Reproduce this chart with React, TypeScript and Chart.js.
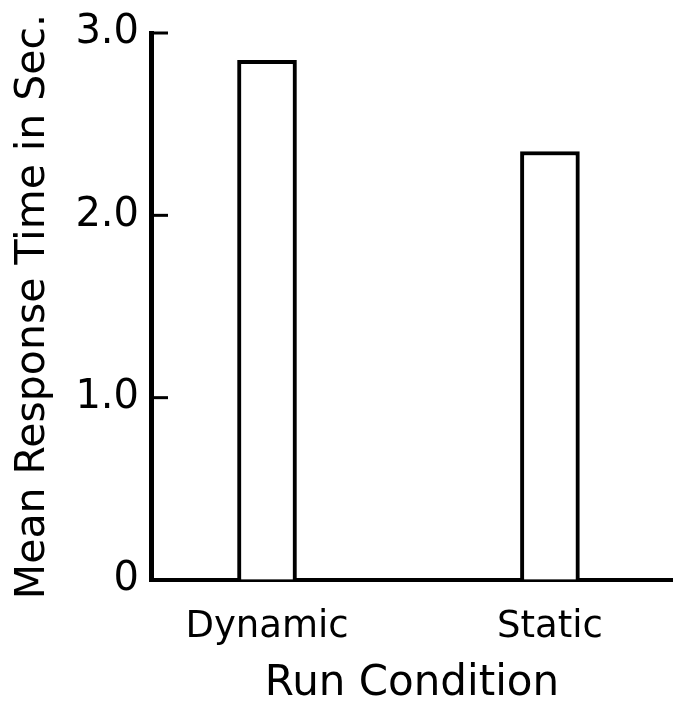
import React, { useEffect, useRef } from "react";
import { Chart, registerables } from "chart.js";

Chart.register(...registerables);

const categories = ["Dynamic", "Static"];
const categoryPositions = [1, 2];
const meanResponseTimes = [2.85, 2.35];
const yTickValues = [0, 1, 2, 3];
const yAxisTitle = "Mean Response Time in Sec.";
const xAxisTitle = "Run Condition";

const FONT = "'DejaVu Sans', sans-serif";

const innerTicksPlugin = {
  id: "innerTicks",
  afterDraw(chart: any) {
    const y = chart.scales.y;
    const ctx = chart.ctx;
    const x0 = chart.chartArea.left;
    ctx.save();
    ctx.strokeStyle = "#000";
    ctx.lineWidth = 3;
    yTickValues.forEach((v) => {
      if (v === 0) return;
      const py = y.getPixelForValue(v);
      ctx.beginPath();
      ctx.moveTo(x0, py);
      ctx.lineTo(x0 + 17, py);
      ctx.stroke();
    });
    ctx.restore();
  },
};

export default function App() {
  const ref = useRef<HTMLCanvasElement | null>(null);

  useEffect(() => {
    if (!ref.current) return;
    const chart = new Chart(ref.current, {
      type: "bar",
      data: {
        datasets: [
          {
            data: categoryPositions.map((x, i) => ({ x, y: meanResponseTimes[i] })),
            backgroundColor: "#ffffff",
            borderColor: "#000000",
            borderWidth: 4,
            barThickness: 59,
          },
        ],
      },
      options: {
        responsive: false,
        animation: false,
        layout: { padding: { top: 33, right: 0, left: 0, bottom: 0 } },
        plugins: { legend: { display: false }, tooltip: { enabled: false } },
        scales: {
          x: {
            type: "linear",
            min: 0.59,
            max: 2.435,
            offset: false,
            afterFit(scale: any) {
              scale.height = 125;
            },
            afterBuildTicks(scale: any) {
              scale.ticks = categoryPositions.map((v) => ({ value: v }));
            },
            grid: { display: true, drawOnChartArea: false, drawTicks: false, offset: false },
            border: { display: true, color: "#000", width: 4 },
            ticks: {
              color: "#000",
              padding: 25,
              autoSkip: false,
              maxRotation: 0,
              font: { family: FONT, size: 37 },
              callback: (v: any) => {
                const i = categoryPositions.indexOf(Number(v));
                return i >= 0 ? categories[i] : "";
              },
            },
            title: {
              display: true,
              text: xAxisTitle,
              color: "#000",
              font: { family: FONT, size: 42, lineHeight: 1 },
              padding: { top: 0, bottom: 0 },
            },
          },
          y: {
            min: 0,
            max: 3,
            afterFit(scale: any) {
              scale.width = 151;
            },
            afterBuildTicks(scale: any) {
              scale.ticks = yTickValues.map((v) => ({ value: v }));
            },
            grid: { display: true, drawOnChartArea: false, drawTicks: false },
            border: { display: true, color: "#000", width: 5 },
            ticks: {
              color: "#000",
              padding: 12,
              font: { family: FONT, size: 40, lineHeight: 1 },
              callback: (v: any) => (Number(v) === 0 ? "0" : Number(v).toFixed(1)),
            },
            title: {
              display: true,
              text: yAxisTitle,
              color: "#000",
              font: { family: FONT, size: 41 },
              padding: { top: 9, bottom: 0 },
            },
          },
        },
      },
      plugins: [innerTicksPlugin],
    });
    return () => chart.destroy();
  }, []);

  return (
    <div style={{ position: "absolute", left: 0, top: 0, width: 673, height: 705, background: "#fff" }}>
      <canvas ref={ref} width={673} height={705} />
    </div>
  );
}
